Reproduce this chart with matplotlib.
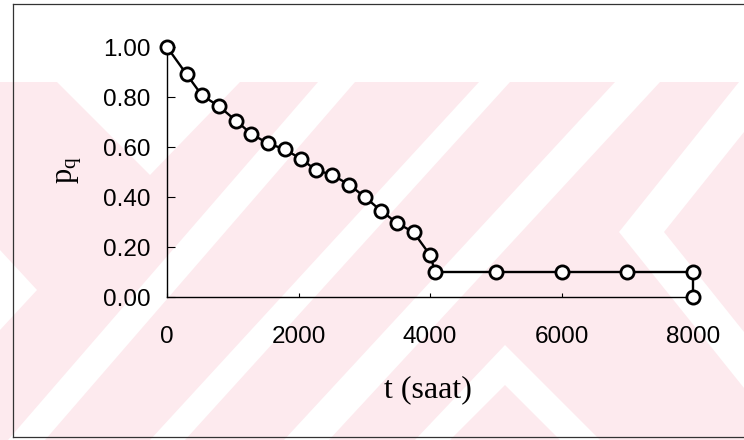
import matplotlib
matplotlib.use('Agg')
import matplotlib.pyplot as plt
from matplotlib.patches import Polygon
from matplotlib.lines import Line2D

# ---- data ----
t_hours = [0, 300, 530, 790, 1050, 1280, 1530, 1790, 2040, 2270, 2510, 2770,
           3010, 3250, 3500, 3750, 4000, 4080, 5000, 6000, 7000, 8000, 8000]
p_q = [1.00, 0.89, 0.807, 0.763, 0.705, 0.653, 0.615, 0.591, 0.552, 0.507,
       0.489, 0.449, 0.400, 0.346, 0.296, 0.259, 0.168, 0.10, 0.10, 0.10,
       0.10, 0.10, 0.0]
x_ticks = [0, 2000, 4000, 6000, 8000]
x_tick_labels = ['0', '2000', '4000', '6000', '8000']
y_ticks = [0.0, 0.2, 0.4, 0.6, 0.8, 1.0]
y_tick_labels = ['0.00', '0.20', '0.40', '0.60', '0.80', '1.00']
x_label = 't (saat)'
y_label = r'$\mathrm{p}_\mathrm{q}$'

plt.rcParams['mathtext.fontset'] = 'custom'
plt.rcParams['mathtext.rm'] = 'Liberation Serif'
plt.rcParams['mathtext.it'] = 'Liberation Serif:italic'

W, H = 744, 440
fig = plt.figure(figsize=(W / 100, H / 100), dpi=100)
fig.patch.set_facecolor('white')


def px(pts):
    return [(x / W, 1 - y / H) for x, y in pts]


# ---- background watermark (scan artefact) ----
pink = '#fdeaee'
fig.patches.append(Polygon(px([(0, 82), (744, 82), (744, 440), (0, 440)]),
                           closed=True, transform=fig.transFigure,
                           facecolor=pink, edgecolor='none', zorder=-3))
white_shapes = [
    [(57, 82), (240, 82), (150, 175)],
    [(8, 440), (45, 440), (355, 82), (318, 82)],
    [(150, 440), (185, 440), (510, 82), (479, 82)],
    [(284, 440), (329, 440), (660, 82), (615, 82)],
    [(739, 82), (744, 82), (744, 132), (664, 232), (744, 332), (744, 388), (619, 232)],
    [(415, 440), (505, 345), (600, 440), (560, 440), (505, 385), (450, 440)],
    [(0, 250), (37, 290), (0, 330)],
]
for s in white_shapes:
    fig.patches.append(Polygon(px(s), closed=True, transform=fig.transFigure,
                               facecolor='white', edgecolor='none', zorder=-2))

# ---- scan frame ----
frame_col = '#333333'
for (x0, y0), (x1, y1) in [((13, 4), (744, 4)), ((13, 4), (13, 437)),
                           ((13, 437), (744, 437))]:
    fig.lines.append(Line2D([x0 / W, x1 / W], [1 - y0 / H, 1 - y1 / H],
                            transform=fig.transFigure, color=frame_col,
                            lw=0.9, zorder=-1))

# ---- axes ----
left, right, bottom, top = 167, 693, 297, 47
ax = fig.add_axes([left / W, 1 - bottom / H, (right - left) / W, (bottom - top) / H])
ax.set_zorder(1)
ax.patch.set_alpha(0)
ax.set_xlim(0, 8000)
ax.set_ylim(0, 1.0)
for s in ['top', 'right']:
    ax.spines[s].set_visible(False)
for s in ['left', 'bottom']:
    ax.spines[s].set_color('black')
    ax.spines[s].set_linewidth(1.0)

ax.plot(t_hours, p_q, color='black', lw=1.7, marker='o', markersize=9.5,
        markerfacecolor='white', markeredgecolor='black', markeredgewidth=2.0,
        clip_on=False, zorder=5)

tick_font = dict(family='Liberation Sans', size=17.5)
ax.set_xticks(x_ticks)
ax.set_xticklabels(x_tick_labels, fontdict=tick_font)
ax.set_yticks(y_ticks)
ax.set_yticklabels(y_tick_labels, fontdict=tick_font)
ax.tick_params(axis='y', direction='in', length=6, width=0.8, pad=12)
ax.tick_params(axis='x', direction='in', length=3, width=0.8, pad=21)

ax.set_xlabel(x_label, family='Liberation Serif', size=23, va='center')
ax.xaxis.set_label_coords((428 - left) / (right - left), (bottom - 390) / (bottom - top))
ax.set_ylabel(y_label, size=22, va='center')
ax.yaxis.set_label_coords((70 - left) / (right - left), (bottom - 170) / (bottom - top))

fig.savefig('out.png', dpi=100)
